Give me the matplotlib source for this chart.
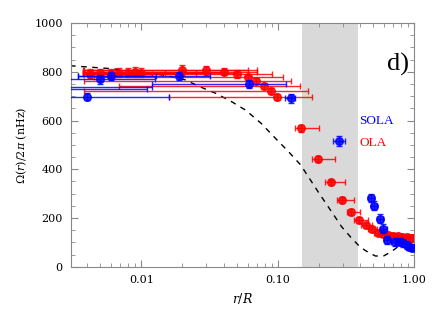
import numpy as np
import matplotlib
matplotlib.use("Agg")
import matplotlib.pyplot as plt
from matplotlib.ticker import FixedLocator, MultipleLocator, LogLocator, NullFormatter

plt.rcParams['font.family'] = ['DejaVu Serif']
plt.rcParams['mathtext.fontset'] = 'dejavuserif'

# OLA inversion (red)
red_r = [0.0042, 0.0050, 0.0060, 0.0069, 0.0080, 0.0089, 0.0100, 0.020, 0.030, 0.040,
         0.050, 0.060, 0.0695, 0.0795, 0.089, 0.099, 0.147, 0.196, 0.245, 0.294,
         0.343, 0.394, 0.44, 0.49, 0.54, 0.59, 0.64, 0.70, 0.76, 0.82, 0.88, 0.94, 0.98]
red_w = [792, 795, 793, 796, 797, 798, 797, 807, 807, 800,
         791, 777, 762, 741, 721, 698, 568, 442, 346, 274,
         226, 192, 171, 153, 140, 133, 130, 127, 125, 123, 122, 120, 118]
red_dw = [18, 18, 18, 18, 18, 20, 20, 20, 18, 15,
          15, 12, 12, 12, 12, 12, 15, 12, 12, 12,
          12, 12, 10, 10, 10, 10, 10, 10, 10, 10, 10, 10, 10]
red_lo = [0.0037, 0.0037, 0.0038, 0.0037, 0.0038, 0.0037, 0.0038, 0.0038, 0.0037, 0.0038,
          0.0040, 0.0045, 0.0038, 0.0069, 0.0038, 0.016, 0.134, 0.178, 0.22, 0.27,
          0.32, 0.365, 0.41, 0.46, 0.51, 0.56, 0.61, 0.67, 0.73, 0.79, 0.85, 0.91, 0.96]
red_hi = [0.012, 0.015, 0.02, 0.025, 0.03, 0.04, 0.05, 0.06, 0.07, 0.07,
          0.09, 0.109, 0.126, 0.146, 0.166, 0.177, 0.200, 0.264, 0.312, 0.359,
          0.40, 0.46, 0.49, 0.53, 0.58, 0.63, 0.68, 0.74, 0.80, 0.86, 0.92, 0.98, 1.0]

# SOLA inversion (blue)
blue_r = [0.0025, 0.0025, 0.004, 0.005, 0.006, 0.0189, 0.061, 0.124, 0.279, 0.48,
          0.508, 0.562, 0.594, 0.637, 0.72, 0.787, 0.83, 0.879, 0.914, 0.96]
blue_w = [738, 728, 698, 769, 783, 783, 750, 691, 516, 282,
          250, 197, 156, 110, 101, 103, 98, 89, 82, 78]
blue_dw = [15, 15, 15, 18, 18, 18, 18, 20, 20, 18,
           18, 18, 18, 15, 15, 15, 15, 15, 15, 15]
blue_lo = [0.001, 0.001, 0.001, 0.001, 0.0034, 0.0034, 0.012, 0.1125, 0.256, 0.455,
           0.48, 0.53, 0.56, 0.60, 0.68, 0.74, 0.79, 0.84, 0.88, 0.93]
blue_hi = [0.012, 0.011, 0.016, 0.0125, 0.0129, 0.0317, 0.115, 0.1345, 0.309, 0.505,
           0.535, 0.595, 0.63, 0.67, 0.76, 0.83, 0.87, 0.92, 0.95, 0.99]

# model rotation profile (dashed)
model_r = [0.003, 0.006, 0.01, 0.015, 0.021, 0.0265, 0.035, 0.046, 0.058, 0.075,
           0.095, 0.12, 0.147, 0.2, 0.245, 0.294, 0.348, 0.4, 0.44, 0.52,
           0.6, 0.68, 0.79, 0.9, 1.0]
model_w = [825, 813, 800, 785, 767, 740, 712, 677, 643, 590,
           530, 472, 418, 303, 230, 164, 117, 82, 66, 44,
           45, 62, 89, 110, 122]

band = (0.15, 0.39)

fig = plt.figure(figsize=(4.36, 3.12), dpi=100)
ax = fig.add_axes([0.163, 0.145, 0.787, 0.781])

ax.axvspan(band[0], band[1], color='#d9d9d9', lw=0, zorder=0)
ax.plot(model_r, model_w, color='black', ls=(0, (4, 4)), lw=1, zorder=1)

r = np.array(red_r)
ax.errorbar(r, red_w, yerr=red_dw, xerr=[r - np.array(red_lo), np.array(red_hi) - r],
            fmt='o', color='red', ms=5.5, elinewidth=1, capsize=2, alpha=0.85, zorder=2)
b = np.array(blue_r)
ax.errorbar(b, blue_w, yerr=blue_dw, xerr=[b - np.array(blue_lo), np.array(blue_hi) - b],
            fmt='o', color='blue', ms=5.5, elinewidth=1, capsize=2, alpha=0.85, zorder=3)

ax.set_xscale('log')
ax.set_xlim(0.00305, 1.0)
ax.set_ylim(0, 1000)

ax.xaxis.set_major_locator(FixedLocator([0.01, 0.1, 1.0]))
ax.set_xticklabels(['0.01', '0.10', '1.00'])
ax.xaxis.set_minor_locator(LogLocator(base=10, subs=np.arange(2, 10)))
ax.xaxis.set_minor_formatter(NullFormatter())
ax.yaxis.set_major_locator(MultipleLocator(200))
ax.yaxis.set_minor_locator(MultipleLocator(50))

ax.tick_params(which='both', direction='in', top=True, right=True, color='#888888',
               labelsize=8, pad=6)
ax.tick_params(which='major', length=5)
ax.tick_params(which='minor', length=3)
for s in ax.spines.values():
    s.set_color('#888888')

ax.set_xlabel(r'$r/R$', fontsize=9)
ax.set_ylabel(r'$\Omega(r)/2\pi$ (nHz)', fontsize=8)

ax.text(0.985, 0.83, 'd)', transform=ax.transAxes, fontsize=19, ha='right', va='center',
        family='Liberation Serif')
ax.text(0.84, 0.6, 'SOLA', transform=ax.transAxes, fontsize=9.5, color='blue',
        family='Liberation Serif', ha='left', va='center')
ax.text(0.84, 0.506, 'OLA', transform=ax.transAxes, fontsize=9.5, color='red',
        family='Liberation Serif', ha='left', va='center')

fig.savefig('out.png', dpi=100)
